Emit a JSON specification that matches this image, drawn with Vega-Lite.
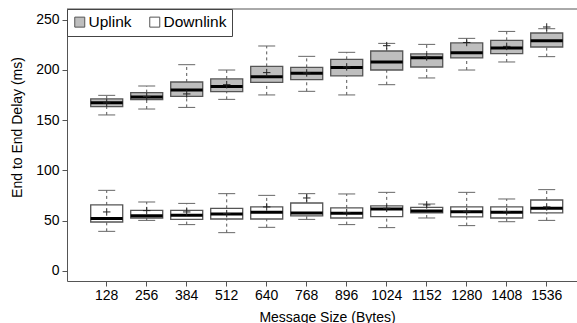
{
  "$schema": "https://vega.github.io/schema/vega-lite/v6.json",
  "width": 510,
  "height": 272,
  "autosize": "none",
  "padding": {"left": 67, "top": 9, "right": 0, "bottom": 42},
  "background": "white",
  "config": {
    "view": {"stroke": null},
    "font": "Liberation Sans",
    "axis": {"grid": false, "domainColor": "#555", "tickColor": "#555", "labelColor": "black", "titleColor": "black", "labelFontSize": 14, "titleFontSize": 14, "titleFontWeight": "normal", "tickSize": 5, "labelPadding": 3},
    "legend": {
      "orient": "none", "legendX": 0, "legendY": 0, "direction": "horizontal",
      "symbolType": "square", "symbolSize": 100, "symbolStrokeColor": "#555", "symbolStrokeWidth": 1,
      "labelFontSize": 15.5, "labelOffset": 1, "columnPadding": 15, "padding": 5,
      "strokeColor": "#444", "fillColor": "white", "labelColor": "black"
    }
  },
  "datasets": {
    "boxes": [
      {"size": "128", "link": "Uplink", "lower": 155.2, "q1": 163.4, "median": 167.4, "q3": 171.1, "upper": 174.7, "mean": 167.2},
      {"size": "256", "link": "Uplink", "lower": 161.1, "q1": 170.4, "median": 173.1, "q3": 177.4, "upper": 184.0, "mean": 173.5},
      {"size": "384", "link": "Uplink", "lower": 162.7, "q1": 173.7, "median": 180.0, "q3": 188.0, "upper": 205.2, "mean": 176.1},
      {"size": "512", "link": "Uplink", "lower": 170.7, "q1": 178.4, "median": 183.6, "q3": 191.0, "upper": 199.9, "mean": 185.3},
      {"size": "640", "link": "Uplink", "lower": 175.1, "q1": 187.6, "median": 193.3, "q3": 203.5, "upper": 223.8, "mean": 197.3},
      {"size": "768", "link": "Uplink", "lower": 178.7, "q1": 190.3, "median": 196.6, "q3": 202.5, "upper": 213.5, "mean": 197.0},
      {"size": "896", "link": "Uplink", "lower": 175.1, "q1": 194.0, "median": 202.5, "q3": 210.5, "upper": 217.5, "mean": 203.0},
      {"size": "1024", "link": "Uplink", "lower": 185.3, "q1": 199.9, "median": 207.9, "q3": 218.8, "upper": 226.4, "mean": 224.1},
      {"size": "1152", "link": "Uplink", "lower": 192.0, "q1": 202.9, "median": 212.2, "q3": 215.9, "upper": 225.4, "mean": 212.9},
      {"size": "1280", "link": "Uplink", "lower": 199.9, "q1": 211.9, "median": 217.1, "q3": 226.8, "upper": 231.4, "mean": 227.3},
      {"size": "1408", "link": "Uplink", "lower": 207.9, "q1": 216.2, "median": 221.8, "q3": 229.4, "upper": 238.3, "mean": 223.4},
      {"size": "1536", "link": "Uplink", "lower": 213.2, "q1": 222.8, "median": 229.1, "q3": 236.7, "upper": 241.0, "mean": 242.7},
      {"size": "128", "link": "Downlink", "lower": 39.4, "q1": 48.7, "median": 52.3, "q3": 65.7, "upper": 80.2, "mean": 58.7},
      {"size": "256", "link": "Downlink", "lower": 50.3, "q1": 52.7, "median": 55.0, "q3": 60.3, "upper": 68.6, "mean": 60.0},
      {"size": "384", "link": "Downlink", "lower": 46.1, "q1": 51.3, "median": 55.3, "q3": 60.3, "upper": 67.2, "mean": 58.7},
      {"size": "512", "link": "Downlink", "lower": 38.1, "q1": 51.7, "median": 56.7, "q3": 62.3, "upper": 76.9, "mean": 57.0},
      {"size": "640", "link": "Downlink", "lower": 43.4, "q1": 51.7, "median": 58.3, "q3": 63.7, "upper": 75.2, "mean": 63.7},
      {"size": "768", "link": "Downlink", "lower": 51.3, "q1": 54.7, "median": 57.7, "q3": 67.6, "upper": 76.9, "mean": 72.6},
      {"size": "896", "link": "Downlink", "lower": 46.1, "q1": 52.7, "median": 57.3, "q3": 62.7, "upper": 76.6, "mean": 58.0},
      {"size": "1024", "link": "Downlink", "lower": 43.1, "q1": 54.0, "median": 61.7, "q3": 64.7, "upper": 78.2, "mean": 62.3},
      {"size": "1152", "link": "Downlink", "lower": 52.7, "q1": 57.7, "median": 59.7, "q3": 63.3, "upper": 66.6, "mean": 65.7},
      {"size": "1280", "link": "Downlink", "lower": 45.1, "q1": 53.7, "median": 59.0, "q3": 63.7, "upper": 78.2, "mean": 59.0},
      {"size": "1408", "link": "Downlink", "lower": 49.0, "q1": 52.7, "median": 58.3, "q3": 63.7, "upper": 71.6, "mean": 59.0},
      {"size": "1536", "link": "Downlink", "lower": 50.3, "q1": 57.7, "median": 62.3, "q3": 70.6, "upper": 80.9, "mean": 63.7}
    ],
    "frame": [{"edge": "top"}]
  },
  "layer": [
    {
      "data": {"name": "boxes"},
      "mark": {"type": "rule", "strokeDash": [3, 3], "color": "#555", "strokeWidth": 1},
      "encoding": {
        "x": {"field": "size", "type": "ordinal", "sort": null,
          "scale": {"paddingInner": 0.2, "paddingOuter": 0.475, "align": 0.624},
          "axis": {"title": "Message Size (Bytes)", "labelAngle": 0, "titleX": 260, "titleY": 40, "titleBaseline": "alphabetic", "labelPadding": 2}},
        "y": {"field": "q3", "type": "quantitative",
          "scale": {"domain": [-10, 260.6], "nice": false, "zero": false},
          "axis": {"values": [0, 50, 100, 150, 200, 250], "title": "End to End Delay (ms)", "titleX": -49.5, "titleY": 118, "titleAlign": "center", "titleBaseline": "middle", "titleAngle": -90}},
        "y2": {"field": "upper"}
      }
    },
    {
      "data": {"name": "boxes"},
      "mark": {"type": "rule", "strokeDash": [3, 3], "color": "#555", "strokeWidth": 1},
      "encoding": {
        "x": {"field": "size", "type": "ordinal", "sort": null},
        "y": {"field": "lower", "type": "quantitative"},
        "y2": {"field": "q1"}
      }
    },
    {
      "data": {"name": "boxes"},
      "mark": {"type": "tick", "orient": "horizontal", "size": 17, "thickness": 1, "color": "#666", "opacity": 1},
      "encoding": {
        "x": {"field": "size", "type": "ordinal", "sort": null},
        "y": {"field": "upper", "type": "quantitative"}
      }
    },
    {
      "data": {"name": "boxes"},
      "mark": {"type": "tick", "orient": "horizontal", "size": 17, "thickness": 1, "color": "#666", "opacity": 1},
      "encoding": {
        "x": {"field": "size", "type": "ordinal", "sort": null},
        "y": {"field": "lower", "type": "quantitative"}
      }
    },
    {
      "data": {"name": "boxes"},
      "mark": {"type": "bar", "stroke": "#555", "strokeWidth": 1.3, "opacity": 1},
      "encoding": {
        "x": {"field": "size", "type": "ordinal", "sort": null},
        "y": {"field": "q1", "type": "quantitative"},
        "y2": {"field": "q3"},
        "fill": {"field": "link", "type": "nominal",
          "scale": {"domain": ["Uplink", "Downlink"], "range": ["#bebebe", "#ffffff"]},
          "legend": {"title": null}}
      }
    },
    {
      "data": {"name": "boxes"},
      "mark": {"type": "tick", "orient": "horizontal", "size": 32, "thickness": 3, "color": "black", "opacity": 1},
      "encoding": {
        "x": {"field": "size", "type": "ordinal", "sort": null},
        "y": {"field": "median", "type": "quantitative"}
      }
    },
    {
      "data": {"name": "boxes"},
      "mark": {"type": "point", "shape": "M-1,0L1,0M0,-1L0,1", "filled": false, "size": 56, "stroke": "#222", "strokeWidth": 1, "opacity": 1},
      "encoding": {
        "x": {"field": "size", "type": "ordinal", "sort": null},
        "y": {"field": "mean", "type": "quantitative"}
      }
    },
    {
      "data": {"name": "frame"},
      "mark": {"type": "rule", "color": "#555", "strokeWidth": 1},
      "encoding": {
        "y": {"datum": 260.6, "type": "quantitative"}
      }
    }
  ]
}
